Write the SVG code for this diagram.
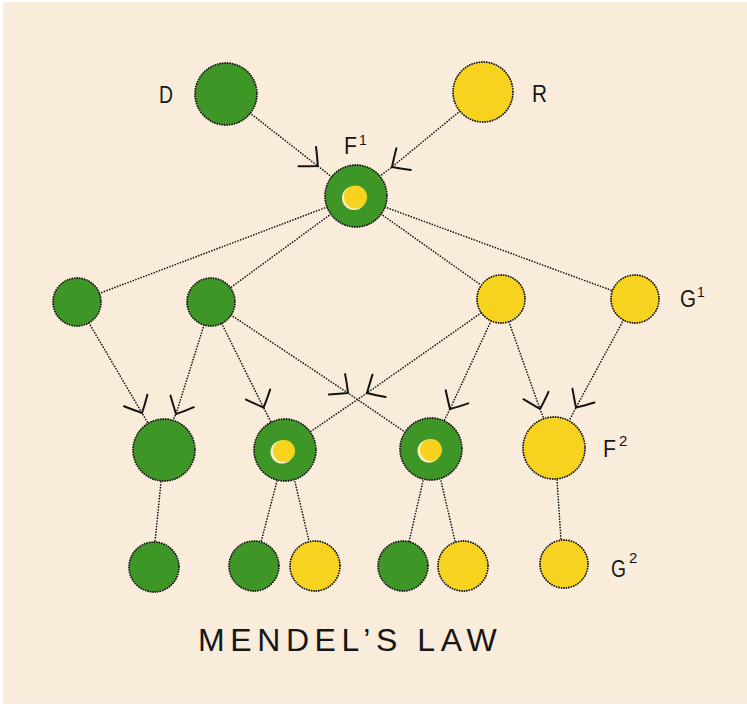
<svg xmlns="http://www.w3.org/2000/svg" width="747" height="706" viewBox="0 0 747 706">
  <defs>
    <style>
      .g { fill: #3e9626; }
      .y { fill: #f7d21f; }
      .ring { fill: none; stroke: #141414; stroke-width: 1.9; stroke-dasharray: 0 2.5; stroke-linecap: round; }
      .con { fill: none; stroke: #141414; stroke-width: 1.7; stroke-dasharray: 0 2.8; stroke-linecap: round; }
      .arr { marker-mid: url(#ah); }
      .lbl { font-family: "Liberation Sans", Arial, sans-serif; font-size: 23px; fill: #161616; }
      .sup { font-family: "Liberation Sans", Arial, sans-serif; font-size: 14px; fill: #161616; }
      .title { font-family: "Liberation Sans", Arial, sans-serif; font-size: 32px; fill: #161616; letter-spacing: 5.6px; }
    </style>
    <marker id="ah" markerUnits="userSpaceOnUse" orient="auto" markerWidth="40" markerHeight="40" refX="0" refY="0" viewBox="-20 -20 40 40" overflow="visible">
      <path d="M -13 -14 Q -5 -6 0 0 Q -6 5 -15 12" fill="none" stroke="#141414" stroke-width="2" stroke-linecap="round" stroke-linejoin="round"/>
    </marker>
  </defs>

  <rect x="0" y="0" width="747" height="706" fill="#ffffff"/>
  <rect x="3" y="2" width="744" height="702" fill="#f9ecda"/>

  <g id="connectors">
    <path class="con arr" d="M 250 113 L 317.7 166 L 332 177"/>
    <path class="con arr" d="M 460 111 L 392 167 L 380 176"/>
    <path class="con" d="M 327 207 L 99 293.5"/>
    <path class="con" d="M 331 214 L 230 288"/>
    <path class="con" d="M 381 214 L 481 285"/>
    <path class="con" d="M 385 207 L 612.5 290.7"/>
    <path class="con arr" d="M 89 323 L 142 413 L 148 423"/>
    <path class="con arr" d="M 204 325 L 176 414 L 173 420"/>
    <path class="con arr" d="M 221.7 323.5 L 263.5 407.5 L 271 422"/>
    <path class="con arr" d="M 231 315 L 348 393 L 405 432"/>
    <path class="con arr" d="M 481 313 L 367 393 L 310 432"/>
    <path class="con arr" d="M 491 321 L 450 409 L 444 421"/>
    <path class="con arr" d="M 509 322 L 540 409 L 544 419"/>
    <path class="con arr" d="M 623.5 320 L 576 407.5 L 569 421"/>
    <path class="con" d="M 161 482 L 155 542"/>
    <path class="con" d="M 277 481 L 261 542"/>
    <path class="con" d="M 295 482 L 309 541"/>
    <path class="con" d="M 423 481 L 409 542"/>
    <path class="con" d="M 441 481 L 455 541"/>
    <path class="con" d="M 557 480 L 561 540"/>
  </g>

  <g id="D">
    <circle class="g" cx="226" cy="94" r="31"/>
    <circle class="ring" cx="226" cy="94" r="31"/>
    <text class="lbl" x="159" y="103" textLength="14" lengthAdjust="spacingAndGlyphs">D</text>
  </g>
  <g id="R">
    <circle class="y" cx="483" cy="92" r="30"/>
    <circle class="ring" cx="483" cy="92" r="30"/>
    <text class="lbl" x="532" y="102" textLength="15" lengthAdjust="spacingAndGlyphs">R</text>
  </g>

  <g id="F1">
    <circle class="g" cx="356" cy="196" r="31"/>
    <circle class="ring" cx="356" cy="196" r="31"/>
    <circle cx="354" cy="198" r="12" fill="#fbf1c8"/>
    <circle class="y" cx="355.5" cy="197" r="11.5"/>
    <text class="lbl" x="344" y="154" textLength="13" lengthAdjust="spacingAndGlyphs">F</text>
    <text class="sup" x="359" y="145">1</text>
  </g>

  <g id="G1a">
    <circle class="g" cx="77" cy="302" r="24"/>
    <circle class="ring" cx="77" cy="302" r="24"/>
  </g>
  <g id="G1b">
    <circle class="g" cx="211" cy="302" r="24"/>
    <circle class="ring" cx="211" cy="302" r="24"/>
  </g>
  <g id="G1c">
    <circle class="y" cx="501" cy="299" r="24"/>
    <circle class="ring" cx="501" cy="299" r="24"/>
  </g>
  <g id="G1d">
    <circle class="y" cx="635" cy="299" r="24"/>
    <circle class="ring" cx="635" cy="299" r="24"/>
    <text class="lbl" x="680" y="307" textLength="16" lengthAdjust="spacingAndGlyphs">G</text>
    <text class="sup" x="697" y="297">1</text>
  </g>

  <g id="F2a">
    <circle class="g" cx="164" cy="450" r="31"/>
    <circle class="ring" cx="164" cy="450" r="31"/>
  </g>
  <g id="F2b">
    <circle class="g" cx="285" cy="450" r="31"/>
    <circle class="ring" cx="285" cy="450" r="31"/>
    <circle cx="282" cy="452" r="11.5" fill="#fbf1c8"/>
    <circle class="y" cx="284" cy="451" r="11"/>
  </g>
  <g id="F2c">
    <circle class="g" cx="431" cy="449" r="31"/>
    <circle class="ring" cx="431" cy="449" r="31"/>
    <circle cx="429" cy="451" r="11.5" fill="#fbf1c8"/>
    <circle class="y" cx="431" cy="450" r="11"/>
  </g>
  <g id="F2d">
    <circle class="y" cx="554" cy="448" r="31"/>
    <circle class="ring" cx="554" cy="448" r="31"/>
    <text class="lbl" x="603" y="457" textLength="13" lengthAdjust="spacingAndGlyphs">F</text>
    <text class="sup" x="619" y="446" style="font-size:15px">2</text>
  </g>

  <g id="G2a">
    <circle class="g" cx="154" cy="567" r="25"/>
    <circle class="ring" cx="154" cy="567" r="25"/>
  </g>
  <g id="G2b">
    <circle class="g" cx="254" cy="566" r="25"/>
    <circle class="ring" cx="254" cy="566" r="25"/>
  </g>
  <g id="G2c">
    <circle class="y" cx="315" cy="566" r="25"/>
    <circle class="ring" cx="315" cy="566" r="25"/>
  </g>
  <g id="G2d">
    <circle class="g" cx="403" cy="566" r="25"/>
    <circle class="ring" cx="403" cy="566" r="25"/>
  </g>
  <g id="G2e">
    <circle class="y" cx="463" cy="566" r="25"/>
    <circle class="ring" cx="463" cy="566" r="25"/>
  </g>
  <g id="G2f">
    <circle class="y" cx="564" cy="564" r="24"/>
    <circle class="ring" cx="564" cy="564" r="24"/>
    <text class="lbl" x="611" y="577" textLength="15" lengthAdjust="spacingAndGlyphs">G</text>
    <text class="sup" x="629" y="563" style="font-size:15px">2</text>
  </g>

  <g id="title">
    <text class="title" x="198" y="651">MENDEL’S LAW</text>
  </g>
</svg>
